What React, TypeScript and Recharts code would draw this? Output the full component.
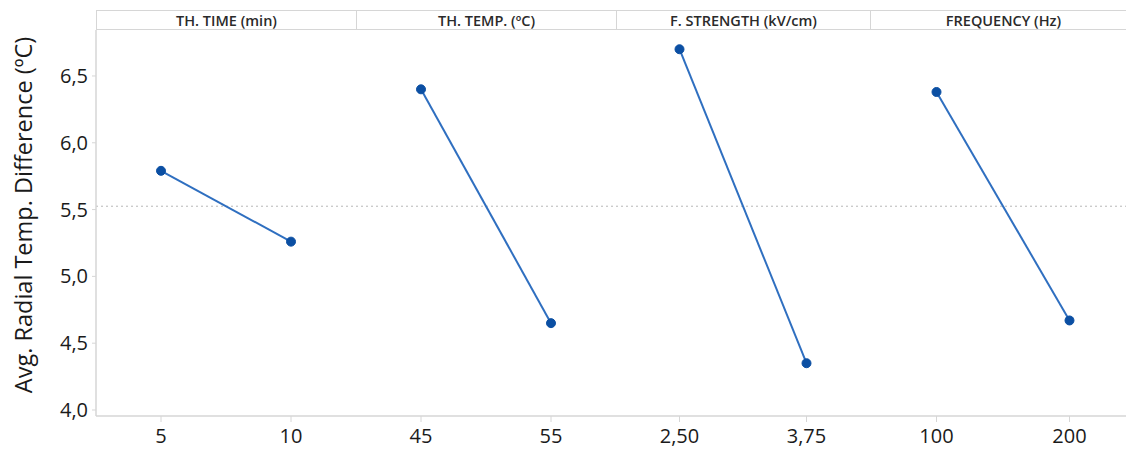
import React from 'react';
import { LineChart, Line, XAxis, YAxis, ReferenceLine } from 'recharts';

const panelTitles = ['TH. TIME (min)', 'TH. TEMP. (ºC)', 'F. STRENGTH (kV/cm)', 'FREQUENCY (Hz)'];
const thTimeLevels = ['5', '10'];
const thTimeMeans = [5.79, 5.26];
const thTempLevels = ['45', '55'];
const thTempMeans = [6.4, 4.65];
const fStrengthLevels = ['2,50', '3,75'];
const fStrengthMeans = [6.7, 4.35];
const frequencyLevels = ['100', '200'];
const frequencyMeans = [6.38, 4.67];
const yTicks = [4.0, 4.5, 5.0, 5.5, 6.0, 6.5];
const yLabel = 'Avg. Radial Temp. Difference (ºC)';

const panels = [
  { title: panelTitles[0], levels: thTimeLevels, means: thTimeMeans },
  { title: panelTitles[1], levels: thTempLevels, means: thTempMeans },
  { title: panelTitles[2], levels: fStrengthLevels, means: fStrengthMeans },
  { title: panelTitles[3], levels: frequencyLevels, means: frequencyMeans },
];

const allMeans = [...thTimeMeans, ...thTempMeans, ...fStrengthMeans, ...frequencyMeans];
const grandMean = allMeans.reduce((a, b) => a + b, 0) / allMeans.length;

const FONT = '"Open Sans", "Noto Sans", sans-serif';
const GRID = '#d6d6d6';
const LINE = '#2f6fc0';
const DOT = '#0b4fa3';
const Y_DOMAIN: [number, number] = [3.955, 6.844];

const layout = [
  { left: 0, width: 356, yWidth: 96 },
  { left: 356, width: 260, yWidth: 0 },
  { left: 616, width: 254, yWidth: 0 },
  { left: 870, width: 266, yWidth: 0 },
];

const fmt = (v: number) => v.toFixed(1).replace('.', ',');

function YLabel(props: any) {
  const vb = props.viewBox || { x: 0, y: 0, width: 0, height: 0 };
  const cx = vb.x + 23;
  const cy = vb.y + vb.height / 2 - 8;
  return (
    <text
      x={cx}
      y={cy}
      transform={`rotate(-90 ${cx} ${cy})`}
      textAnchor="middle"
      dominantBaseline="central"
      fontFamily={FONT}
      fontSize={23.5}
      fill="#1a1a1a"
    >
      {yLabel}
    </text>
  );
}

export default function App() {
  return (
    <div style={{ position: 'absolute', left: 0, top: 0, width: 1126, height: 453, overflow: 'hidden', background: '#fff' }}>
      {panels.map((p, i) => {
        const L = layout[i];
        const data = p.levels.map((lv, k) => ({ level: lv, mean: p.means[k] }));
        const plotLeft = L.left + L.yWidth;
        const plotWidth = L.width - L.yWidth;
        return (
          <React.Fragment key={p.title}>
            <div
              style={{
                position: 'absolute',
                left: plotLeft,
                top: 10,
                width: plotWidth,
                height: 20,
                borderTop: `1.5px solid ${GRID}`,
                borderBottom: `1.5px solid ${GRID}`,
                borderLeft: `1.5px solid ${GRID}`,
                boxSizing: 'border-box',
                display: 'flex',
                alignItems: 'center',
                justifyContent: 'center',
                fontFamily: FONT,
                fontWeight: 600,
                fontSize: 14.5,
                color: '#2a2a2a',
                whiteSpace: 'nowrap',
              }}
            >
              {p.title}
            </div>
            <div style={{ position: 'absolute', left: L.left, top: 0 }}>
              <LineChart width={L.width} height={453} data={data} margin={{ top: 30, right: 0, bottom: 0, left: 0 }}>
                <XAxis
                  dataKey="level"
                  scale="band"
                  height={37}
                  axisLine={{ stroke: GRID, strokeWidth: 1.5 }}
                  tickLine={{ stroke: GRID }}
                  tickSize={6}
                  tick={{ fill: '#1a1a1a', fontSize: 20, fontFamily: FONT }}
                  tickMargin={7}
                  interval={0}
                />
                <YAxis
                  type="number"
                  domain={Y_DOMAIN}
                  ticks={yTicks}
                  allowDataOverflow
                  width={L.yWidth}
                  tick={L.yWidth > 0 ? { fill: '#1a1a1a', fontSize: 20, fontFamily: FONT } : false}
                  tickFormatter={fmt}
                  axisLine={{ stroke: GRID, strokeWidth: 1.5 }}
                  tickLine={L.yWidth > 0 ? { stroke: GRID } : false}
                  tickSize={4}
                  tickMargin={4}
                  label={L.yWidth > 0 ? <YLabel /> : undefined}
                />
                <ReferenceLine y={grandMean} stroke="#b8b8b8" strokeDasharray="2 3" strokeWidth={1} />
                <Line
                  type="linear"
                  dataKey="mean"
                  stroke={LINE}
                  strokeWidth={2}
                  dot={{ r: 4.5, fill: DOT, stroke: DOT, strokeWidth: 1 }}
                  activeDot={false}
                  isAnimationActive={false}
                />
              </LineChart>
            </div>
          </React.Fragment>
        );
      })}
    </div>
  );
}
